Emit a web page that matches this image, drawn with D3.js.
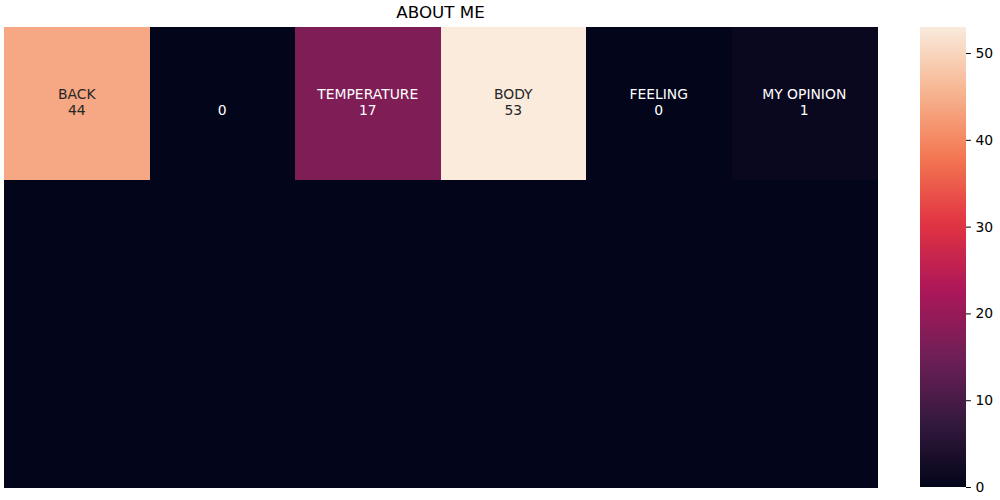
<!DOCTYPE html>
<html><head><meta charset="utf-8">
<script src="https://cdn.jsdelivr.net/npm/d3@7"></script>
<style>body{margin:0;background:#fff}text{font-family:"DejaVu Sans",sans-serif}</style>
</head><body><svg id="c" width="1000" height="500"></svg>
<script>
const title = "ABOUT ME";
const columns = [0,1,2,3,4,5];
const rows = [0,1,2];
const row0Values = [44,0,17,53,0,1];
const row1Values = [0,0,0,0,0,0];
const row2Values = [0,0,0,0,0,0];
const row0Labels = ["BACK","","TEMPERATURE","BODY","FEELING","MY OPINION"];
const colorbarTicks = [0,10,20,30,40,50];
const rocketStops = ["#03051a","#35193e","#701f57","#ad1759","#e13342","#f37651","#f6b48f","#faebdd"];

const values = [row0Values,row1Values,row2Values];
const cells = [];
rows.forEach(r=>columns.forEach(c=>cells.push({r,c,v:values[r][c],label:r===0?row0Labels[c]:null})));
const vmin = 0, vmax = d3.max(cells,d=>d.v);

const svg = d3.select("#c");
const L=4,R=877,T=27,B=487;
const x = d3.scaleBand().domain(columns).range([L,R]).paddingInner(0).paddingOuter(0);
const y = d3.scaleBand().domain(rows).range([T,B]);
const stopDomain = rocketStops.map((_,i)=>i/(rocketStops.length-1));
const cmapUnit = d3.scaleLinear().domain(stopDomain).range(rocketStops).interpolate(d3.interpolateRgb).clamp(true);
const color = v => cmapUnit((v-vmin)/(vmax-vmin));

svg.append("g").attr("shape-rendering","crispEdges").selectAll("rect").data(cells).join("rect")
  .attr("x",d=>x(d.c)).attr("y",d=>y(d.r))
  .attr("width",x.bandwidth()+0.5).attr("height",y.bandwidth()+0.5)
  .attr("fill",d=>color(d.v));

const lum = c => { const o=d3.rgb(c); const f=u=>{u/=255;return u<=0.03928?u/12.92:Math.pow((u+0.055)/1.055,2.4)}; return 0.2126*f(o.r)+0.7152*f(o.g)+0.0722*f(o.b); };
const ann = svg.append("g").selectAll("text").data(cells.filter(d=>d.label!==null)).join("text")
  .attr("text-anchor","middle").attr("font-size","13.9px")
  .attr("fill",d=>lum(color(d.v))>0.408?"#262626":"#ffffff");
ann.each(function(d){
  const cx = x(d.c)+x.bandwidth()/2, cy = y(d.r)+y.bandwidth()/2;
  const t = d3.select(this);
  if(d.label) t.append("tspan").attr("x",cx).attr("y",cy-4.8).text(d.label);
  t.append("tspan").attr("x",cx).attr("y",cy+11.2).text(d.v);
});

svg.append("text").attr("x",(L+R)/2).attr("y",18.3).attr("text-anchor","middle")
  .attr("font-size","16.7px").attr("fill","#000").text(title);

// colorbar
const cbL=920,cbR=966;
const cy2 = d3.scaleLinear().domain([vmin,vmax]).range([B,T]);
const defs = svg.append("defs");
const grad = defs.append("linearGradient").attr("id","g").attr("x1",0).attr("y1",1).attr("x2",0).attr("y2",0);
d3.range(0,1.0001,0.02).forEach(t=>grad.append("stop").attr("offset",t).attr("stop-color",cmapUnit(t)));
svg.append("rect").attr("x",cbL).attr("y",T).attr("width",cbR-cbL).attr("height",B-T).attr("fill","url(#g)");
const ax = svg.append("g").attr("transform",`translate(${cbR},0)`)
  .call(d3.axisRight(cy2).tickValues(colorbarTicks).tickSize(4.9).tickPadding(4.5).tickSizeOuter(0));
ax.select(".domain").remove();
ax.selectAll("text").attr("font-size","13.9px").attr("fill","#000").attr("font-family","DejaVu Sans");
ax.selectAll("line").attr("stroke","#000").attr("stroke-width",1);
</script></body></html>
